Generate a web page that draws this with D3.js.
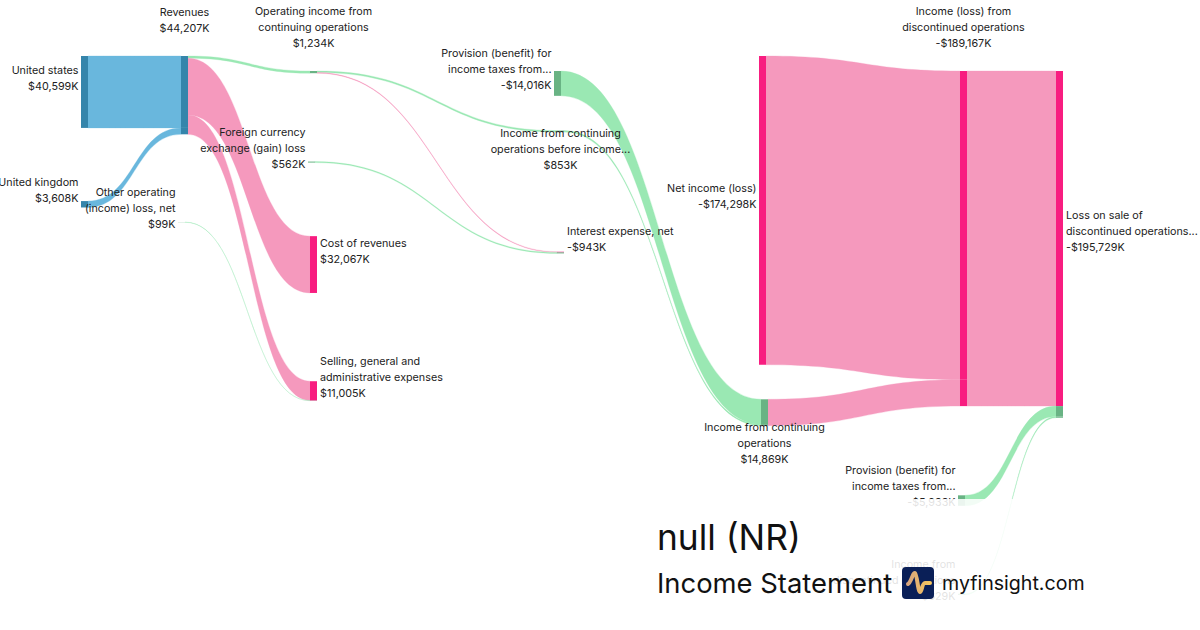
<!DOCTYPE html>
<html>
<head>
<meta charset="utf-8">
<script src="https://cdn.jsdelivr.net/npm/d3@7"></script>
<style>
  html, body { margin: 0; background: #fff; }
  text { font-family: Inter, "Noto Sans", sans-serif; }
</style>
</head>
<body>
<svg id="plot"></svg>
<script>
// node data, all same order
const nodeNames = ["United states", "United kingdom", "Revenues", "Other operating (income) loss, net",
  "Operating income from continuing operations", "Foreign currency exchange (gain) loss", "Cost of revenues",
  "Selling, general and administrative expenses", "Provision (benefit) for income taxes from continuing",
  "Income from continuing operations before income", "Interest expense, net", "Net income (loss)",
  "Income from continuing operations", "Provision (benefit) for income taxes from discontinued",
  "Income from discontinued operations", "Income (loss) from discontinued operations",
  "Loss on sale of discontinued operations"];
const nodeValues = [40599, 3608, 44207, 99, 1234, 562, 32067, 11005, 14016, 853, 943, 174298, 14869, 5933, 629, 189167, 195729];
const nodeDisplay = ["$40,599K", "$3,608K", "$44,207K", "$99K", "$1,234K", "$562K", "$32,067K", "$11,005K",
  "-$14,016K", "$853K", "-$943K", "-$174,298K", "$14,869K", "-$5,933K", "$629K", "-$189,167K", "-$195,729K"];
const nodeLines = [["United states"], ["United kingdom"], ["Revenues"], ["Other operating", "(income) loss, net"],
  ["Operating income from", "continuing operations"], ["Foreign currency", "exchange (gain) loss"], ["Cost of revenues"],
  ["Selling, general and", "administrative expenses"], ["Provision (benefit) for", "income taxes from..."],
  ["Income from continuing", "operations before income..."], ["Interest expense, net"], ["Net income (loss)"],
  ["Income from continuing", "operations"], ["Provision (benefit) for", "income taxes from..."],
  ["Income from", "discontinued operations"], ["Income (loss) from", "discontinued operations"],
  ["Loss on sale of", "discontinued operations..."]];
const nodeKinds = ["rev", "rev", "rev", "gain", "gain", "gain", "cost", "cost", "gain", "gain", "cost", "cost", "gain", "gain", "gain", "cost", "cost"];

// links: source index, target index, value, kind
const linkSources = [0, 1, 2, 2, 2, 3, 4, 4, 5, 8, 9, 11, 12, 15, 13, 14];
const linkTargets = [2, 2, 4, 6, 7, 7, 9, 10, 10, 12, 12, 15, 15, 16, 16, 16];
const linkValues = [40599, 3608, 1234, 32067, 10906, 99, 853, 381, 562, 14016, 853, 174298, 14869, 189167, 5933, 629];
const linkKinds = ["rev", "rev", "gain", "cost", "cost", "gain", "gain", "cost", "gain", "gain", "gain", "cost", "cost", "cost", "gain", "gain"];

// layout, kept apart from the values: column slot of each node, its offset down the flow in $K, label side
const columnX = [81, 178, 181, 308, 310, 554, 557, 759, 761, 958, 960, 1056];
const nodeColumns = [0, 0, 2, 1, 4, 3, 4, 4, 5, 6, 6, 7, 8, 9, 9, 10, 11];
const nodeOffsets = [0, 81900, 0, 93750, 8475, 59600, 101700, 183600, 8475, 42100, 110500, 0, 193800, 248000, 303600, 8475, 8475];
const labelSides = ["left", "left", "above", "left", "above", "left", "right", "right", "left", "below", "right", "left", "below", "left", "left", "above", "right"];

const width = 1200;
const height = 630;
const nodeWidth = 7;
const lineHeight = 15.9;

const linkColor = { rev: "#69b7dd", gain: "#9ae8b3", cost: "#f599bd" };
const nodeColor = { rev: "#3585ab", gain: "#69b384", cost: "#f81d80" };

const svg = d3.select("#plot").attr("width", width).attr("height", height).style("display", "block");

const xScale = d3.scaleOrdinal().domain(d3.range(columnX.length)).range(columnX);
const yScale = d3.scaleLinear().domain([0, 350000]).range([56, 676]);
const thick = (v) => yScale(v) - yScale(0);

const nodes = nodeNames.map((name, i) => ({
    name,
    kind: nodeKinds[i],
    side: labelSides[i],
    lines: nodeLines[i].concat(nodeDisplay[i]),
    x0: xScale(nodeColumns[i]),
    x1: xScale(nodeColumns[i]) + nodeWidth,
    y0: yScale(nodeOffsets[i]),
    y1: yScale(nodeOffsets[i]) + thick(nodeValues[i]),
    outY: yScale(nodeOffsets[i]),
    inY: yScale(nodeOffsets[i]),
}));

// stack the links on each node in list order, node bar takes its colours from what flows in
const segments = [];
const links = linkValues.map((value, i) => {
    const s = nodes[linkSources[i]];
    const t = nodes[linkTargets[i]];
    const w = thick(value);
    const link = {
        kind: linkKinds[i],
        points: [
            { x: s.x1, y0: s.outY, y1: s.outY + w },
            { x: t.x0, y0: t.inY, y1: t.inY + w },
        ],
    };
    segments.push({ x: t.x0, y0: t.inY, y1: t.inY + w, kind: linkKinds[i] });
    s.outY += w;
    t.inY += w;
    return link;
});
const targets = new Set(linkTargets);
nodes.forEach((n, i) => {
    if (!targets.has(i)) segments.push({ x: n.x0, y0: n.y0, y1: n.y1, kind: n.kind });
});

// band of constant vertical thickness, not a stroked centre line
const linkArea = d3.area()
    .curve(d3.curveBumpX)
    .x((p) => p.x)
    .y0((p) => p.y0)
    .y1((p) => p.y1);

svg.append("g")
    .selectAll("path")
    .data(links)
    .join("path")
    .attr("d", (d) => linkArea(d.points))
    .attr("fill", (d) => linkColor[d.kind])
    .attr("stroke", (d) => linkColor[d.kind])
    .attr("stroke-width", 0.3);

svg.append("g")
    .selectAll("rect")
    .data(segments)
    .join("rect")
    .attr("x", (d) => d.x)
    .attr("y", (d) => d.y0)
    .attr("width", nodeWidth)
    .attr("height", (d) => d.y1 - d.y0)
    .attr("fill", (d) => nodeColor[d.kind]);

// labels sit about 14px above the node centre, or stack above / below it
const firstLineY = (d) => {
    const n = d.lines.length;
    if (d.side === "above") return d.y0 - 28 - (n - 1) * lineHeight;
    if (d.side === "below") return d.y1 + 1.5;
    if (d.side === "right") return (d.y0 + d.y1) / 2 - 13.5 - ((n - 1) * lineHeight) / 2;
    return (d.y0 + d.y1) / 2 - 14 - ((n - 1) * lineHeight) / 2;
};
const labelX = (d) => {
    if (d.side === "left") return d.x0 - 2.5;
    if (d.side === "right") return d.x1 + 3;
    return (d.x0 + d.x1) / 2;
};
const labelAnchor = { left: "end", right: "start", above: "middle", below: "middle" };

svg.append("g")
    .selectAll("text")
    .data(nodes)
    .join("text")
    .attr("font-size", 10.75)
    .attr("fill", "#222")
    .attr("text-anchor", (d) => labelAnchor[d.side])
    .selectAll("tspan")
    .data((d) => d.lines.map((line, i) => ({ line, i, d })))
    .join("tspan")
    .attr("x", (t) => labelX(t.d))
    .attr("y", (t) => firstLineY(t.d) + t.i * lineHeight)
    .attr("dy", "0.35em")
    .text((t) => t.line);

// the card footer washes out whatever runs under it
svg.append("rect")
    .attr("x", 640)
    .attr("y", 499)
    .attr("width", 560)
    .attr("height", 131)
    .attr("fill", "#fff")
    .attr("fill-opacity", 0.87);

svg.append("text")
    .attr("x", 657)
    .attr("y", 538)
    .attr("dy", "0.35em")
    .attr("font-size", 35.3)
    .attr("fill", "#111")
    .text("null (NR)");

svg.append("text")
    .attr("x", 657)
    .attr("y", 583)
    .attr("dy", "0.35em")
    .attr("font-size", 27.4)
    .attr("fill", "#111")
    .text("Income Statement");

const gold = svg.append("defs").append("linearGradient").attr("id", "gold");
gold.append("stop").attr("offset", "0%").attr("stop-color", "#d8a67e");
gold.append("stop").attr("offset", "100%").attr("stop-color", "#f6c55e");

const logo = svg.append("g").attr("transform", "translate(902,567)");
logo.append("rect").attr("width", 32).attr("height", 32).attr("rx", 4).attr("fill", "#0a1f57");
logo.append("path")
    .attr("d", "M6,17 C9,16 11,5 13,6 C15,7 16,25 18,25 C20,25 20,16 23,16 L28,16")
    .attr("fill", "none")
    .attr("stroke", "url(#gold)")
    .attr("stroke-width", 4)
    .attr("stroke-linecap", "round")
    .attr("stroke-linejoin", "round");

svg.append("text")
    .attr("x", 942)
    .attr("y", 583)
    .attr("dy", "0.35em")
    .attr("font-size", 19.6)
    .attr("fill", "#111")
    .text("myfinsight.com");
</script>
</body>
</html>
